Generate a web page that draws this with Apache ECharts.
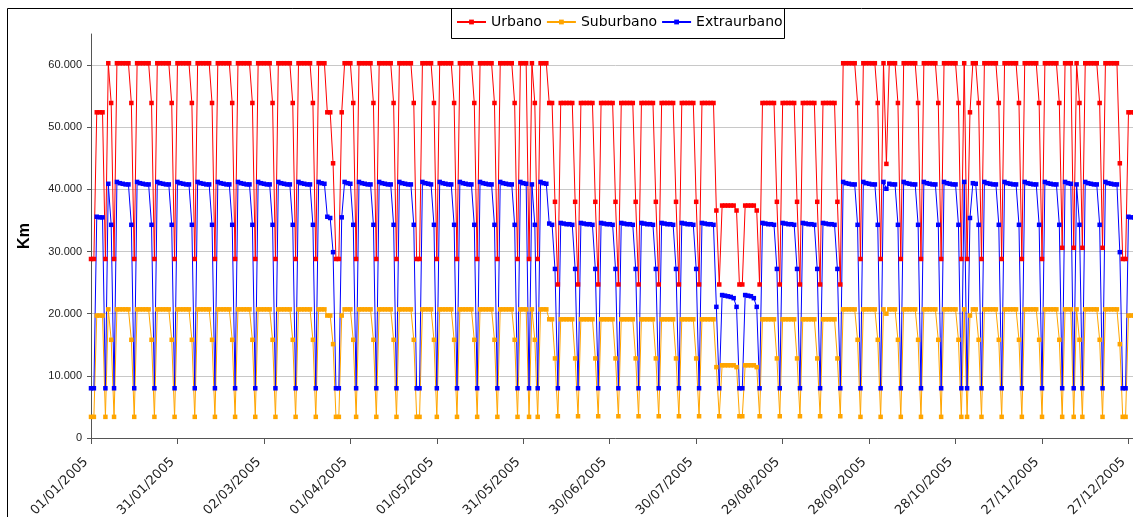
<!DOCTYPE html>
<html>
<head>
<meta charset="utf-8">
<script src="https://cdn.jsdelivr.net/npm/echarts@6/dist/echarts.min.js"></script>
<style>
html,body{margin:0;padding:0;background:#fff;overflow:hidden;width:1133px;height:517px;}
#chart{width:1145px;height:517px;}
</style>
</head>
<body>
<div id="chart"></div>
<script>
// Axis tick labels (every 30 days)
const tickLabels = ['01/01/2005','31/01/2005','02/03/2005','01/04/2005','01/05/2005','31/05/2005',
  '30/06/2005','30/07/2005','29/08/2005','28/09/2005','28/10/2005','27/11/2005','27/12/2005'];
const seriesNames = ['Urbano','Suburbano','Extraurbano'];
const yTicks = [0,10000,20000,30000,40000,50000,60000];

// Daily categories 01/01/2005 .. 31/12/2005
const categories = [];
for (let i = 0; i < 365; i++) {
  const d = new Date(Date.UTC(2005, 0, 1 + i));
  const p = n => (n < 10 ? '0' : '') + n;
  categories.push(p(d.getUTCDate()) + '/' + p(d.getUTCMonth() + 1) + '/2005');
}

// One line per week (Mon..Sun), first line = Sat 01/01, Sun 02/01
const urbano = [
28800,28800,
52400,52400,52400,28800,60300,53900,28800,
60300,60300,60300,60300,60300,53900,28800,
60300,60300,60300,60300,60300,53900,28800,
60300,60300,60300,60300,60300,53900,28800,
60300,60300,60300,60300,60300,53900,28800,
60300,60300,60300,60300,60300,53900,28800,
60300,60300,60300,60300,60300,53900,28800,
60300,60300,60300,60300,60300,53900,28800,
60300,60300,60300,60300,60300,53900,28800,
60300,60300,60300,60300,60300,53900,28800,
60300,60300,60300,60300,60300,53900,28800,
60300,60300,60300,52400,52400,44200,28800,
28800,52400,60300,60300,60300,53900,28800,
60300,60300,60300,60300,60300,53900,28800,
60300,60300,60300,60300,60300,53900,28800,
60300,60300,60300,60300,60300,53900,28800,
28800,60300,60300,60300,60300,53900,28800,
60300,60300,60300,60300,60300,53900,28800,
60300,60300,60300,60300,60300,53900,28800,
60300,60300,60300,60300,60300,53900,28800,
60300,60300,60300,60300,60300,53900,28800,
60300,60300,60300,28800,60300,53900,28800,
60300,60300,60300,53900,53900,38000,24700,
53900,53900,53900,53900,53900,38000,24700,
53900,53900,53900,53900,53900,38000,24700,
53900,53900,53900,53900,53900,38000,24700,
53900,53900,53900,53900,53900,38000,24700,
53900,53900,53900,53900,53900,38000,24700,
53900,53900,53900,53900,53900,38000,24700,
53900,53900,53900,53900,53900,38000,24700,
53900,53900,53900,53900,53900,36600,24700,
37400,37400,37400,37400,37400,36600,24700,
24700,37400,37400,37400,37400,36600,24700,
53900,53900,53900,53900,53900,38000,24700,
53900,53900,53900,53900,53900,38000,24700,
53900,53900,53900,53900,53900,38000,24700,
53900,53900,53900,53900,53900,38000,24700,
60300,60300,60300,60300,60300,53900,28800,
60300,60300,60300,60300,60300,53900,28800,
60300,44100,60300,60300,60300,53900,28800,
60300,60300,60300,60300,60300,53900,28800,
60300,60300,60300,60300,60300,53900,28800,
60300,60300,60300,60300,60300,53900,28800,
60300,28800,52400,60300,60300,53900,28800,
60300,60300,60300,60300,60300,53900,28800,
60300,60300,60300,60300,60300,53900,28800,
60300,60300,60300,60300,60300,53900,28800,
60300,60300,60300,60300,60300,53900,30600,
60300,60300,60300,30600,60300,53900,30600,
60300,60300,60300,60300,60300,53900,30600,
60300,60300,60300,60300,60300,44200,28800,
28800,52400,52400,52400,52400,44200
];

const suburbano = [
3400,3400,
19700,19700,19700,3400,20700,15800,3400,
20700,20700,20700,20700,20700,15800,3400,
20700,20700,20700,20700,20700,15800,3400,
20700,20700,20700,20700,20700,15800,3400,
20700,20700,20700,20700,20700,15800,3400,
20700,20700,20700,20700,20700,15800,3400,
20700,20700,20700,20700,20700,15800,3400,
20700,20700,20700,20700,20700,15800,3400,
20700,20700,20700,20700,20700,15800,3400,
20700,20700,20700,20700,20700,15800,3400,
20700,20700,20700,20700,20700,15800,3400,
20700,20700,20700,19700,19700,15100,3400,
3400,19700,20700,20700,20700,15800,3400,
20700,20700,20700,20700,20700,15800,3400,
20700,20700,20700,20700,20700,15800,3400,
20700,20700,20700,20700,20700,15800,3400,
3400,20700,20700,20700,20700,15800,3400,
20700,20700,20700,20700,20700,15800,3400,
20700,20700,20700,20700,20700,15800,3400,
20700,20700,20700,20700,20700,15800,3400,
20700,20700,20700,20700,20700,15800,3400,
20700,20700,20700,3400,20700,15800,3400,
20700,20700,20700,19100,19100,12800,3500,
19100,19100,19100,19100,19100,12800,3500,
19100,19100,19100,19100,19100,12800,3500,
19100,19100,19100,19100,19100,12800,3500,
19100,19100,19100,19100,19100,12800,3500,
19100,19100,19100,19100,19100,12800,3500,
19100,19100,19100,19100,19100,12800,3500,
19100,19100,19100,19100,19100,12800,3500,
19100,19100,19100,19100,19100,11400,3500,
11700,11700,11700,11700,11700,11400,3500,
3500,11700,11700,11700,11700,11400,3500,
19100,19100,19100,19100,19100,12800,3500,
19100,19100,19100,19100,19100,12800,3500,
19100,19100,19100,19100,19100,12800,3500,
19100,19100,19100,19100,19100,12800,3500,
20700,20700,20700,20700,20700,15800,3400,
20700,20700,20700,20700,20700,15800,3400,
20700,20000,20700,20700,20700,15800,3400,
20700,20700,20700,20700,20700,15800,3400,
20700,20700,20700,20700,20700,15800,3400,
20700,20700,20700,20700,20700,15800,3400,
20700,3400,19700,20700,20700,15800,3400,
20700,20700,20700,20700,20700,15800,3400,
20700,20700,20700,20700,20700,15800,3400,
20700,20700,20700,20700,20700,15800,3400,
20700,20700,20700,20700,20700,15800,3400,
20700,20700,20700,3400,20700,15800,3400,
20700,20700,20700,20700,20700,15800,3400,
20700,20700,20700,20700,20700,15100,3400,
3400,19700,19700,19700,19700,15100
];

const extraurbano = [
8000,8000,
35600,35500,35500,8000,40900,34300,8000,
41200,41000,40900,40800,40800,34300,8000,
41200,41000,40900,40800,40800,34300,8000,
41200,41000,40900,40800,40800,34300,8000,
41200,41000,40900,40800,40800,34300,8000,
41200,41000,40900,40800,40800,34300,8000,
41200,41000,40900,40800,40800,34300,8000,
41200,41000,40900,40800,40800,34300,8000,
41200,41000,40900,40800,40800,34300,8000,
41200,41000,40900,40800,40800,34300,8000,
41200,41000,40900,40800,40800,34300,8000,
41200,41000,40900,35600,35400,29900,8000,
8000,35500,41200,41000,40900,34300,8000,
41200,41000,40900,40800,40800,34300,8000,
41200,41000,40900,40800,40800,34300,8000,
41200,41000,40900,40800,40800,34300,8000,
8000,41200,41000,40900,40800,34300,8000,
41200,41000,40900,40800,40800,34300,8000,
41200,41000,40900,40800,40800,34300,8000,
41200,41000,40900,40800,40800,34300,8000,
41200,41000,40900,40800,40800,34300,8000,
41200,41000,40900,8000,40800,34300,8000,
41200,41000,40900,34500,34300,27200,8000,
34600,34500,34400,34400,34300,27200,8000,
34600,34500,34400,34400,34300,27200,8000,
34600,34500,34400,34400,34300,27200,8000,
34600,34500,34400,34400,34300,27200,8000,
34600,34500,34400,34400,34300,27200,8000,
34600,34500,34400,34400,34300,27200,8000,
34600,34500,34400,34400,34300,27200,8000,
34600,34500,34400,34400,34300,21100,8000,
23000,22900,22800,22700,22500,21100,8000,
8000,23000,22900,22800,22500,21100,8000,
34600,34500,34400,34400,34300,27200,8000,
34600,34500,34400,34400,34300,27200,8000,
34600,34500,34400,34400,34300,27200,8000,
34600,34500,34400,34400,34300,27200,8000,
41200,41000,40900,40800,40800,34300,8000,
41200,41000,40900,40800,40800,34300,8000,
41200,40100,40900,40800,40800,34300,8000,
41200,41000,40900,40800,40800,34300,8000,
41200,41000,40900,40800,40800,34300,8000,
41200,41000,40900,40800,40800,34300,8000,
41200,8000,35400,41000,40900,34300,8000,
41200,41000,40900,40800,40800,34300,8000,
41200,41000,40900,40800,40800,34300,8000,
41200,41000,40900,40800,40800,34300,8000,
41200,41000,40900,40800,40800,34300,8000,
41200,41000,40900,8000,40800,34300,8000,
41200,41000,40900,40800,40800,34300,8000,
41200,41000,40900,40800,40800,29900,8000,
8000,35600,35500,35500,35500,29900
];

const colors = ['#FF0000', '#FFA500', '#0000FF'];
const seriesData = [urbano, suburbano, extraurbano];

const chart = echarts.init(document.getElementById('chart'), null, {renderer: 'canvas'});
const fontFamily = 'DejaVu Sans, Verdana, sans-serif';

chart.setOption({
  animation: false,
  backgroundColor: '#ffffff',
  textStyle: {fontFamily: fontFamily},
  grid: {left: 91, right: 5, top: 34, bottom: 79, containLabel: false, outerBoundsMode: 'none'},
  legend: {
    data: seriesNames,
    left: 456, top: 15,
    padding: 0,
    itemGap: 4,
    itemWidth: 29,
    itemHeight: 6,
    textStyle: {fontSize: 14, color: '#000', fontFamily: fontFamily}
  },
  graphic: [
    {type: 'rect', silent: true, z: 100,
      shape: {x: 7.5, y: 8.5, width: 1300, height: 700},
      style: {fill: 'none', stroke: '#000', lineWidth: 1}},
    {type: 'rect', silent: true, z: 100,
      shape: {x: 451.5, y: 8.5, width: 333, height: 30},
      style: {fill: 'none', stroke: '#000', lineWidth: 1}}
  ],
  xAxis: {
    type: 'category',
    data: categories,
    boundaryGap: false,
    axisLine: {show: true, lineStyle: {color: '#555', width: 1}},
    axisTick: {show: true, interval: 29, length: 6, lineStyle: {color: '#555'}},
    axisLabel: {
      interval: 29, rotate: 45, margin: 17,
      padding: [0, 7, 0, 0],
      hideOverlap: false,
      fontSize: 13, color: '#222', fontFamily: fontFamily,
      formatter: (v, idx) => tickLabels[Math.round(idx / 30)] || v
    },
    splitLine: {show: false}
  },
  yAxis: {
    type: 'value',
    min: 0, max: 65000, interval: 10000,
    name: 'Km',
    nameLocation: 'middle',
    nameRotate: 90,
    nameGap: 58,
    nameTextStyle: {fontSize: 16, fontWeight: 'bold', color: '#000', fontFamily: 'Liberation Sans, Arial, sans-serif'},
    axisLine: {show: true, lineStyle: {color: '#555', width: 1}},
    axisTick: {show: true, length: 4, lineStyle: {color: '#555'}},
    axisLabel: {
      showMaxLabel: false,
      margin: 9,
      fontSize: 11, color: '#222', fontFamily: 'Liberation Sans, Arial, sans-serif',
      formatter: v => (yTicks.indexOf(v) < 0 ? '' : (v === 0 ? '0' : (v / 1000) + '.000'))
    },
    splitLine: {show: true, showMaxLine: false, lineStyle: {color: '#c8c8c8', width: 1}}
  },
  series: seriesNames.map((name, k) => ({
    name: name,
    type: 'line',
    data: seriesData[k],
    symbol: 'rect',
    symbolSize: 4.5,
    showAllSymbol: true,
    showSymbol: true,
    lineStyle: {color: colors[k], width: 1},
    itemStyle: {color: colors[k]},
    emphasis: {disabled: true}
  }))
});
</script>
</body>
</html>
